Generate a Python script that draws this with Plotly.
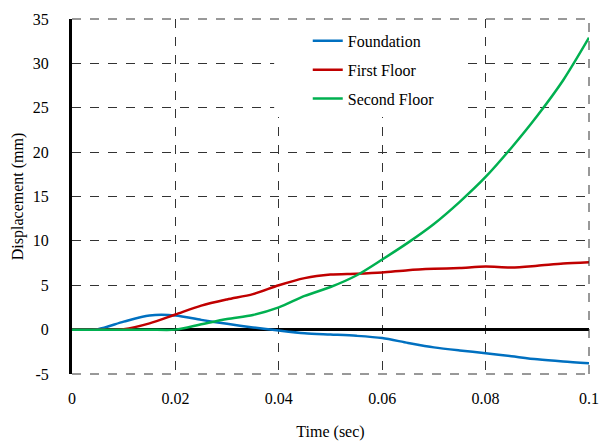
import plotly.graph_objects as go

time = [0, 0.005, 0.01, 0.015, 0.02, 0.025, 0.03, 0.035, 0.04, 0.045, 0.05,
        0.055, 0.06, 0.065, 0.07, 0.075, 0.08, 0.085, 0.09, 0.095, 0.1]
foundation = [0, 0.05, 0.9, 1.6, 1.6, 1.1, 0.65, 0.25, -0.1, -0.4, -0.55,
              -0.7, -0.95, -1.5, -2.0, -2.35, -2.65, -3.0, -3.35, -3.6, -3.8]
first_floor = [0, 0, 0.05, 0.7, 1.7, 2.7, 3.4, 4.0, 5.0, 5.8, 6.2,
               6.3, 6.45, 6.7, 6.85, 6.95, 7.1, 7.0, 7.2, 7.45, 7.6]
second_floor = [0, 0, 0, 0, 0, 0.6, 1.2, 1.65, 2.5, 3.8, 4.8,
                6.1, 7.9, 9.8, 11.9, 14.4, 17.2, 20.5, 24.1, 28.1, 32.9]

x_ticks = [0, 0.02, 0.04, 0.06, 0.08, 0.1]
x_tick_labels = ["0", "0.02", "0.04", "0.06", "0.08", "0.1"]
y_ticks = [-5, 0, 5, 10, 15, 20, 25, 30, 35]
y_tick_labels = ["-5", "0", "5", "10", "15", "20", "25", "30", "35"]

series = [
    ("Foundation", foundation, "#0070C0"),
    ("First Floor", first_floor, "#C00000"),
    ("Second Floor", second_floor, "#00B050"),
]

fig = go.Figure()
for name, vals, color in series:
    fig.add_trace(go.Scatter(x=time, y=vals, name=name, mode="lines", legendgroup=name,
                             line=dict(color=color, width=2.5, shape="spline", smoothing=0.8)))

font = "Liberation Serif"
grid_color = "#333333"

# white box behind the legend (hides gridlines there)
fig.add_shape(type="rect", xref="paper", yref="paper", x0=0.391, x1=0.75, y0=0.724, y1=1,
              fillcolor="white", line=dict(width=0), layer="above")
# dashed frame lines at the range edges (plotly drops edge gridlines)
for x0, y0, x1, y1 in [(0, 1, 1, 1), (1, 0, 1, 1), (0, 0, 1, 0)]:
    fig.add_shape(type="line", xref="paper", yref="paper", x0=x0, y0=y0, x1=x1, y1=y1,
                  line=dict(color=grid_color, width=1, dash="dash"), layer="above")

fig.update_layout(
    width=600, height=441,
    margin=dict(l=72, r=11, t=19, b=67),
    paper_bgcolor="white", plot_bgcolor="white",
    font=dict(family=font, size=16, color="black"),
    showlegend=True,
    legend=dict(x=0.456, y=0.986, xanchor="left", yanchor="top",
                bgcolor="rgba(0,0,0,0)", borderwidth=0,
                font=dict(family=font, size=16, color="black"),
                tracegroupgap=5),
    xaxis=dict(range=[0, 0.1], tickvals=x_ticks, ticktext=x_tick_labels,
               showgrid=True, gridcolor=grid_color, griddash="dash", gridwidth=1,
               zeroline=False, showline=False, ticks="", ticklabelstandoff=13,
               automargin=False,
               title=dict(text="Time (sec)", standoff=19, font=dict(size=16))),
    yaxis=dict(range=[-5, 35], tickvals=y_ticks, ticktext=y_tick_labels,
               showgrid=True, gridcolor=grid_color, griddash="dash", gridwidth=1,
               zeroline=True, zerolinecolor="black", zerolinewidth=2.5,
               showline=True, linecolor="black", linewidth=3, ticks="",
               ticklabelstandoff=17, automargin=False,
               title=dict(text="Displacement (mm)", standoff=6, font=dict(size=16))),
)

fig.write_html("out.html", config={"displayModeBar": False},
               post_script="document.body.style.margin='0';document.body.style.overflow='hidden';")
